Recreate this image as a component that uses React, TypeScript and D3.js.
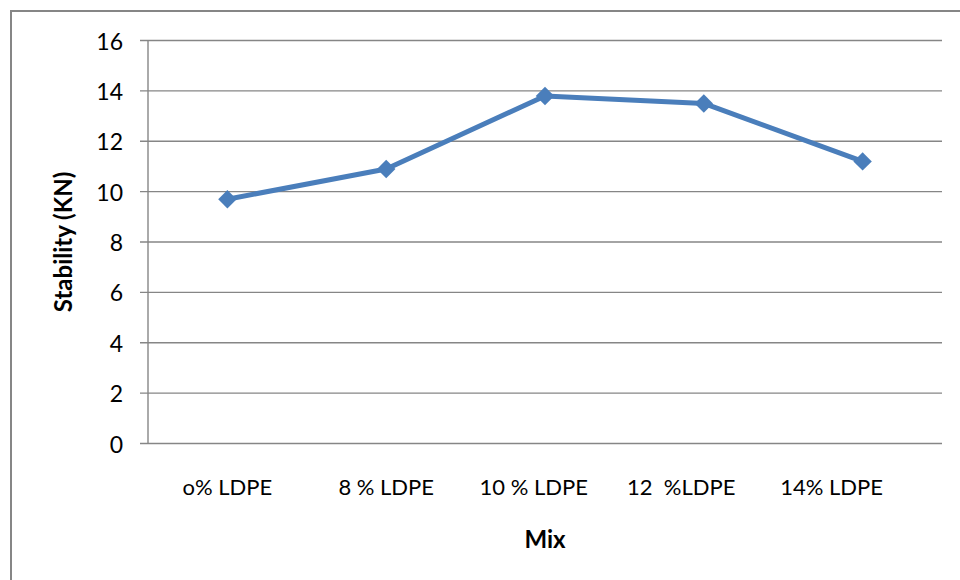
import React from "react";
import * as d3 from "d3";

// Marshall stability of the mix at each LDPE content
const mixes = ["o% LDPE", "8 % LDPE", "10 % LDPE    ", "12  %LDPE        ", "14% LDPE           "];
const stability = [9.7, 10.9, 13.8, 13.5, 11.2];
const yTicks = [0, 2, 4, 6, 8, 10, 12, 14, 16];

const W = 960;
const H = 580;
const margin = { left: 148, right: 18, top: 40.5, bottom: 136.5 };
const FONT = "Lato, 'Open Sans', sans-serif";
const GRID = "#868686";
const BLUE = "#4A7EBB";

export default function App() {
  const x = d3
    .scaleBand<string>()
    .domain(mixes)
    .range([margin.left, W - margin.right]);
  const y = d3
    .scaleLinear()
    .domain([0, 16])
    .range([H - margin.bottom, margin.top]);

  const cx = (m: string) => (x(m) as number) + x.bandwidth() / 2;
  const pts = mixes.map((m, i) => [cx(m), y(stability[i])] as [number, number]);
  const line = d3.line()(pts) as string;
  const diamond = d3.symbol().type(d3.symbolSquare).size(170)() as string;

  const x0 = margin.left;
  const x1 = W - margin.right;
  const yBase = y(0);

  return (
    <svg
      width={W}
      height={H}
      style={{ position: "absolute", left: 0, top: 0, background: "#fff" }}
      fontFamily={FONT}
    >
      <rect x={11} y={11} width={W} height={H} fill="#fff" stroke={GRID} strokeWidth={2} />

      {yTicks.map((t) => (
        <g key={t}>
          <line x1={x0 - 8} x2={x1} y1={y(t)} y2={y(t)} stroke={GRID} strokeWidth={1.4} />
          <text
            x={123}
            y={y(t)}
            textAnchor="end"
            dominantBaseline="central"
            fontSize={23}
            fill="#000"
          >
            {t}
          </text>
        </g>
      ))}
      <line x1={x0} x2={x0} y1={margin.top} y2={yBase} stroke={GRID} strokeWidth={1.4} />

      {mixes.map((m) => (
        <text
          key={m}
          x={cx(m)}
          y={495}
          textAnchor="middle"
          fontSize={22}
          fill="#000"
          style={{ whiteSpace: "pre" }}
        >
          {m}
        </text>
      ))}

      <path d={line} fill="none" stroke={BLUE} strokeWidth={5} strokeLinejoin="round" />
      {pts.map(([px, py], i) => (
        <path key={i} d={diamond} transform={`translate(${px},${py}) rotate(45)`} fill={BLUE} />
      ))}

      <text
        transform={`translate(62, ${(margin.top + yBase) / 2}) rotate(-90)`}
        textAnchor="middle"
        dominantBaseline="central"
        fontSize={24}
        fontWeight="bold"
        fill="#000"
      >
        Stability (KN)
      </text>
      <text x={(x0 + x1) / 2} y={548} textAnchor="middle" fontSize={24} fontWeight="bold" fill="#000">
        Mix
      </text>
    </svg>
  );
}
